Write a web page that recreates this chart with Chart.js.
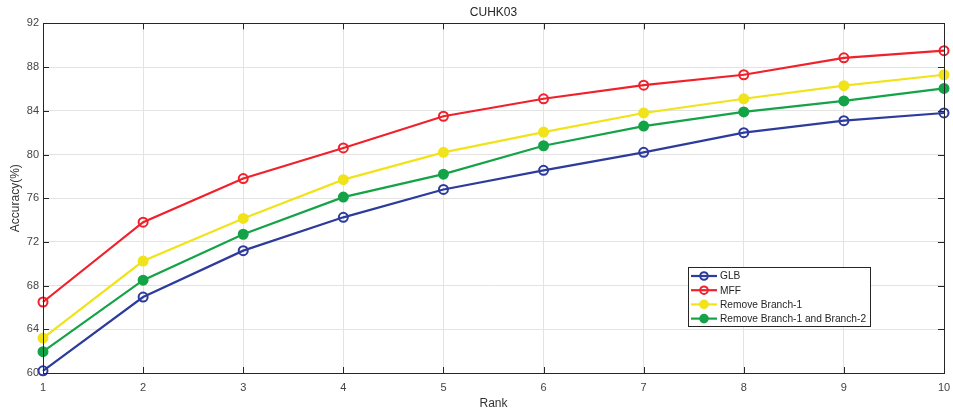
<!DOCTYPE html>
<html>
<head>
<meta charset="utf-8">
<script src="https://cdn.jsdelivr.net/npm/chart.js@4.4.1/dist/chart.umd.min.js"></script>
<style>
html,body{margin:0;padding:0;background:#fff;}
#wrap{width:953px;height:411px;position:relative;}
</style>
</head>
<body>
<div id="wrap"><canvas id="c" width="953" height="411"></canvas></div>
<script>
const ranks = ['1','2','3','4','5','6','7','8','9','10'];
const glb = [60.2, 66.95, 71.2, 74.25, 76.8, 78.55, 80.2, 82.0, 83.1, 83.8];
const mff = [66.5, 73.8, 77.8, 80.6, 83.5, 85.1, 86.35, 87.3, 88.85, 89.5];
const removeB1 = [63.2, 70.25, 74.15, 77.7, 80.2, 82.05, 83.8, 85.1, 86.3, 87.3];
const removeB12 = [61.95, 68.5, 72.7, 76.1, 78.2, 80.8, 82.6, 83.9, 84.9, 86.05];
const yTicks = [60, 64, 68, 72, 76, 80, 84, 88, 92];

const FONT = "'Liberation Sans', Arial, sans-serif";

function ds(label, data, color, fill) {
  return {
    label, data,
    borderColor: color,
    backgroundColor: color,
    pointBorderColor: color,
    pointBackgroundColor: fill ? color : 'rgba(0,0,0,0)',
    pointRadius: 4.5,
    pointHoverRadius: 4.5,
    pointBorderWidth: 2,
    borderWidth: 2.2,
    tension: 0,
    fill: false,
    clip: false
  };
}

const boxPlugin = {
  id: 'boxPlugin',
  afterDraw(chart) {
    const {ctx, chartArea: a} = chart;
    ctx.save();
    ctx.strokeStyle = '#262626';
    ctx.lineWidth = 1;
    ctx.strokeRect(Math.round(a.left) + 0.5, Math.round(a.top) + 0.5, Math.round(a.right - a.left), Math.round(a.bottom - a.top));
    const xs = chart.scales.x, ys = chart.scales.y;
    ctx.beginPath();
    ranks.forEach((r, i) => {
      const px = Math.round(xs.getPixelForValue(i)) + 0.5;
      ctx.moveTo(px, a.bottom); ctx.lineTo(px, a.bottom - 6);
      ctx.moveTo(px, a.top); ctx.lineTo(px, a.top + 6);
    });
    yTicks.forEach(v => {
      const py = Math.round(ys.getPixelForValue(v)) + 0.5;
      ctx.moveTo(a.left, py); ctx.lineTo(a.left + 6, py);
      ctx.moveTo(a.right, py); ctx.lineTo(a.right - 6, py);
    });
    ctx.stroke();

    const lx = 688, ly = 267, lw = 182, lh = 59;
    ctx.fillStyle = '#fff';
    ctx.fillRect(lx, ly, lw, lh);
    ctx.strokeStyle = '#262626';
    ctx.strokeRect(lx + 0.5, ly + 0.5, lw, lh);
    ctx.font = '10.2px ' + FONT;
    ctx.textBaseline = 'middle';
    ctx.textAlign = 'left';
    chart.data.datasets.forEach((d, i) => {
      const y = ly + 9 + i * 14.2;
      ctx.strokeStyle = d.borderColor;
      ctx.lineWidth = 2.2;
      ctx.beginPath(); ctx.moveTo(691, y); ctx.lineTo(717, y); ctx.stroke();
      ctx.lineWidth = 2;
      ctx.beginPath(); ctx.arc(704, y, 3.8, 0, Math.PI * 2);
      if (d.pointBackgroundColor !== 'rgba(0,0,0,0)') { ctx.fillStyle = d.borderColor; ctx.fill(); }
      ctx.stroke();
      ctx.fillStyle = '#262626';
      ctx.fillText(d.label, 720, y + 0.5);
    });
    ctx.restore();
  }
};

new Chart(document.getElementById('c'), {
  type: 'line',
  data: {
    labels: ranks,
    datasets: [
      ds('GLB', glb, '#2c3b9c', false),
      ds('MFF', mff, '#f0212b', false),
      ds('Remove Branch-1', removeB1, '#f0e31a', true),
      ds('Remove Branch-1 and Branch-2', removeB12, '#14a347', true)
    ]
  },
  options: {
    responsive: false,
    animation: false,
    layout: {padding: {left: 0, right: 9, top: 0, bottom: 0}},
    plugins: {
      legend: {display: false},
      tooltip: {enabled: false},
      title: {
        display: true,
        fullSize: false,
        text: 'CUHK03',
        color: '#262626',
        font: {family: FONT, size: 12, weight: 'normal'},
        padding: {top: 5, bottom: 4}
      }
    },
    scales: {
      x: {
        offset: false,
        grid: {color: '#e3e3e3', drawTicks: false, lineWidth: 1},
        border: {display: false},
        ticks: {color: '#444', font: {family: FONT, size: 11}, padding: 8, maxRotation: 0, autoSkip: false},
        title: {display: true, text: 'Rank', color: '#333', font: {family: FONT, size: 12}, padding: {top: 2, bottom: 0}},
        afterFit(s) { s.height = 38; s.paddingLeft = 0; s.paddingRight = 0; }
      },
      y: {
        min: 60, max: 92,
        afterBuildTicks(s) { s.ticks = yTicks.map(v => ({value: v})); },
        grid: {color: '#e3e3e3', drawTicks: false, lineWidth: 1},
        border: {display: false},
        ticks: {color: '#444', font: {family: FONT, size: 11}, padding: 4},
        title: {display: true, text: 'Accuracy(%)', color: '#333', font: {family: FONT, size: 12}, padding: {top: 8, bottom: 4}},
        afterFit(s) { s.width = 43; s.paddingTop = 0; s.paddingBottom = 0; }
      }
    }
  },
  plugins: [boxPlugin]
});
</script>
</body>
</html>
